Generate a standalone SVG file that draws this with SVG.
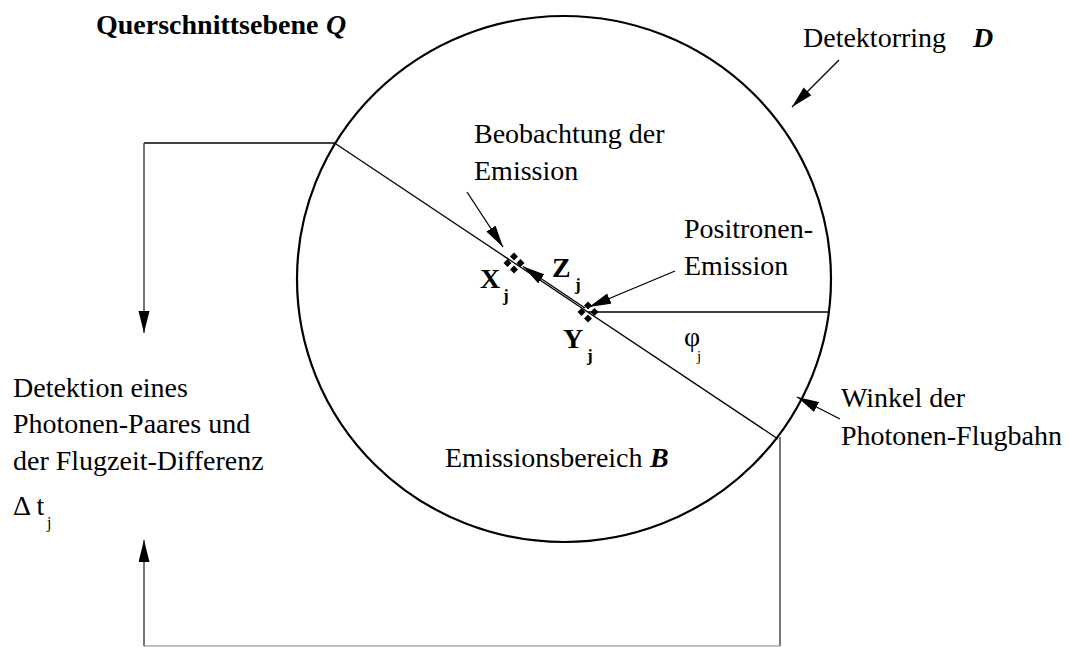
<svg xmlns="http://www.w3.org/2000/svg" width="1071" height="647" viewBox="0 0 1071 647">
<style>
text{font-family:"Liberation Serif","Times New Roman",serif;fill:#000}
.t{font-size:28px}
.b{font-weight:bold}
.bi{font-weight:bold;font-style:italic}
.ln{stroke:#000;stroke-width:1.3;fill:none}
.gr{stroke:#555;stroke-width:1.6;fill:none}
.ar{stroke:#000;stroke-width:1.3;fill:none;marker-end:url(#ah)}
</style>
<defs>
<marker id="ah" markerUnits="userSpaceOnUse" markerWidth="24" markerHeight="12" refX="22" refY="5.5" orient="auto">
<path d="M0,0 L22,5.5 L0,11 z" fill="#000"/>
</marker>
<g id="dia">
<path d="M0,-10.5 L4,-6.5 L0,-2.5 L-4,-6.5 z M-6.5,-4 L-2.5,0 L-6.5,4 L-10.5,0 z M6.5,-4 L10.5,0 L6.5,4 L2.5,0 z M0,2.5 L4,6.5 L0,10.5 L-4,6.5 z" fill="#000"/>
</g>
</defs>
<rect width="1071" height="647" fill="#fff"/>

<g id="ring">
<ellipse cx="564" cy="279" rx="267" ry="263" fill="none" stroke="#000" stroke-width="2.2"/>
</g>

<g id="connectors">
<line class="ln" x1="336" y1="144" x2="778" y2="439"/>
<line class="ln" x1="588" y1="312" x2="829" y2="312"/>
<line class="ln" x1="336" y1="143" x2="144" y2="143"/>
<line class="gr" x1="144" y1="143" x2="144" y2="333" marker-end="url(#ah)"/>
<line class="gr" x1="780" y1="437" x2="780" y2="646"/>
<line stroke="#aaa" stroke-width="1.5" x1="144" y1="646" x2="780" y2="646"/>
<line class="gr" x1="144" y1="646" x2="144" y2="540" marker-end="url(#ah)"/>
<line class="ar" x1="839" y1="60" x2="792" y2="107"/>
<line class="ar" x1="467" y1="192" x2="503" y2="247"/>
<line class="ar" x1="675" y1="271" x2="589" y2="307"/>
<line class="ar" x1="840" y1="419" x2="797" y2="397"/>
<line class="ar" x1="585" y1="308" x2="523" y2="266.5"/>
</g>

<g id="pointX"><use href="#dia" x="514" y="263"/>
<text class="t b" x="480" y="288">X</text><text class="b" font-size="17" x="503" y="301">j</text></g>
<g id="pointY"><use href="#dia" x="588" y="312"/>
<text class="t b" x="563" y="348">Y</text><text class="b" font-size="17" x="587" y="361">j</text></g>
<g id="labelZ"><text class="t b" x="552" y="277">Z</text><text class="b" font-size="17" x="575" y="290">j</text></g>

<g id="title"><text class="b" font-size="28" x="96" y="34">Querschnittsebene</text><text class="bi" font-size="28" x="326" y="34">Q</text></g>
<g id="labelD"><text class="t" x="803" y="47">Detektorring</text><text class="t bi" x="973" y="47">D</text></g>
<g id="labelObs"><text class="t" x="474" y="143">Beobachtung der</text><text class="t" x="474" y="180">Emission</text></g>
<g id="labelPos"><text class="t" x="684" y="238">Positronen-</text><text class="t" x="684" y="275">Emission</text></g>
<g id="labelPhi"><text font-size="28" x="684" y="346">φ</text><text font-size="15" x="697" y="361">j</text></g>
<g id="labelWinkel"><text class="t" x="841" y="407">Winkel der</text><text class="t" x="841" y="445">Photonen-Flugbahn</text></g>
<g id="labelB"><text class="t" x="445" y="467">Emissionsbereich</text><text class="t bi" x="650" y="467">B</text></g>
<g id="labelDet"><text class="t" x="13" y="397">Detektion eines</text><text class="t" x="13" y="433">Photonen-Paares und</text><text class="t" x="13" y="470">der Flugzeit-Differenz</text>
<text class="t" x="13" y="515">Δ t</text><text font-size="16" x="47" y="528">j</text></g>
</svg>
